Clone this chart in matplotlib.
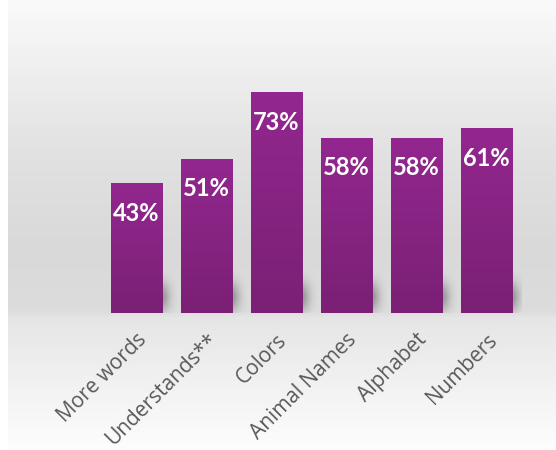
import numpy as np
import matplotlib
matplotlib.use("Agg")
import matplotlib.pyplot as plt
from matplotlib.colors import LinearSegmentedColormap

# Chart data
categories = ["More words", "Understands**", "Colors", "Animal Names", "Alphabet", "Numbers"]
values = [43, 51, 73, 58, 58, 61]

fig = plt.figure(figsize=(5.56, 4.5), dpi=100)
fig.patch.set_facecolor("white")

# Background gradient panel (light top, grey middle, light bottom)
bg = fig.add_axes([8 / 556, 0, 1 - 8 / 556, 1])
stops = [(0.0, "#fafafa"), (0.33, "#e2e2e2"), (0.55, "#d9d9d9"), (0.69, "#dcdcdc"),
         (0.71, "#e6e6e6"), (1.0, "#fdfdfd")]
bg_cmap = LinearSegmentedColormap.from_list("bg", stops)
bg.imshow(np.linspace(0, 1, 256).reshape(-1, 1), aspect="auto", cmap=bg_cmap,
          extent=[0, 1, 1, 0])
bg.set_axis_off()

# Main axes: 70 px per category, baseline at y=313 px
ax = fig.add_axes([101.5 / 556, (450 - 313) / 450, 420 / 556, 302.5 / 450])
ax.set_facecolor("none")
x = np.arange(len(categories))
ax.set_xlim(-0.5, len(categories) - 0.5)
ax.set_ylim(0, 100)
width = 0.73

# Soft shadows to the right of each bar
sh_w, sh_h = 0.2, 15
yy, xx = np.mgrid[0:1:60j, 0:1:40j]
alpha = np.exp(-((xx / 0.55) ** 2)) * np.exp(-(((yy - 0.35) / 0.32) ** 2)) * 0.32
shadow = np.zeros((60, 40, 4))
shadow[..., 3] = alpha
for xi in x:
    ax.imshow(shadow, extent=[xi + width / 2 - 0.02, xi + width / 2 + sh_w, 0, sh_h],
              origin="lower", aspect="auto", interpolation="bilinear", zorder=1)

# Bars with vertical purple gradient
bar_cmap = LinearSegmentedColormap.from_list("bar", ["#7a2075", "#93278f"])
bars = ax.bar(x, values, width=width, color="#8a2386", zorder=2)
for b in bars:
    grad = ax.imshow(np.linspace(0, 1, 100).reshape(-1, 1), cmap=bar_cmap, origin="lower",
                     aspect="auto", extent=[b.get_x(), b.get_x() + b.get_width(), 0, b.get_height()],
                     zorder=3)
    grad.set_clip_path(b)

# Value labels inside bars
for xi, v in zip(x, values):
    ax.text(xi, v - 10, f"{v}%", ha="center", va="center", color="white",
            fontsize=17, fontweight="bold", family="Lato", zorder=4)

ax.set_xticks(x)
ax.set_xticklabels(categories, rotation=45, ha="right", rotation_mode="anchor",
                   color="#595959", fontsize=15, family="Open Sans")
ax.tick_params(axis="x", length=0, pad=12)
ax.set_yticks([])
for s in ax.spines.values():
    s.set_visible(False)

fig.savefig("out.png", dpi=100)
